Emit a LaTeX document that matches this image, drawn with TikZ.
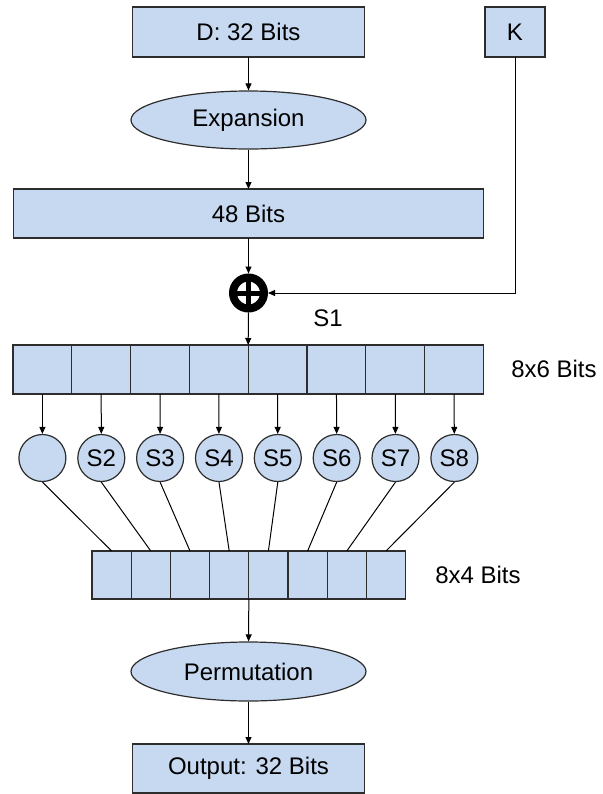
\documentclass[tikz,border=0pt]{standalone}
\usepackage{fontspec}
\setmainfont{Liberation Sans}
\usepackage{tikz}
\usetikzlibrary{shapes, arrows.meta, positioning}
\definecolor{BoxBlue}{RGB}{198, 217, 240}
\definecolor{BoxLine}{RGB}{45, 45, 45}
\tikzset{
    bitbox/.style={
        rectangle,
        draw=BoxLine,
        fill=BoxBlue,
        line width=0.6pt,
        inner sep=0pt,
        outer sep=0pt,
        align=center,
        font=\fontsize{12}{14}\selectfont
    },
    opellipse/.style={
        ellipse,
        draw=BoxLine,
        fill=BoxBlue,
        line width=0.6pt,
        inner sep=0pt,
        minimum width=117.5pt,
        minimum height=29pt,
        font=\fontsize{12}{14}\selectfont
    },
    % cells of the 8x6 and 8x4 registers
    cell/.style={
        bitbox,
        minimum width=29.4pt,
        minimum height=24.5pt
    },
    smallcell/.style={
        bitbox,
        minimum width=19.6pt,
        minimum height=24pt
    },
    sbox/.style={
        circle,
        draw=BoxLine,
        fill=BoxBlue,
        line width=0.6pt,
        inner sep=0pt,
        minimum size=23.5pt,
        font=\fontsize{12}{14}\selectfont
    },
    xorsym/.style={
        circle,
        draw=black,
        fill=white,
        line width=4pt,
        inner sep=0pt,
        minimum size=15.5pt,
        path picture={
            \draw[line width=2.5pt, black]
                (path picture bounding box.north) -- (path picture bounding box.south)
                (path picture bounding box.west) -- (path picture bounding box.east);
        }
    },
    arrow/.style={
        -{Triangle[length=3.5pt, width=3pt]},
        line width=0.5pt,
        color=black
    },
    link/.style={
        line width=0.5pt,
        color=black
    },
    bitlabel/.style={
        font=\fontsize{12}{14}\selectfont
    }
}
\begin{document}
\begin{tikzpicture}[x=0.5pt, y=-0.5pt]
    \useasboundingbox (0,0) rectangle (603,794);

    \node[bitbox, minimum width=116pt, minimum height=25pt] (din) at (248.5,32) {D: 32 Bits};
    \node[bitbox, minimum width=30pt, minimum height=25pt] (key) at (515,32) {K};
    \node[opellipse] (expansion) at (248.5,120) {Expansion};
    \node[bitbox, minimum width=235pt, minimum height=24.5pt] (bits48) at (248.5,213.5) {48 Bits};
    \node[xorsym] (xor) at (248.5,293) {};
    \node[bitlabel] (lblS1) at (328,318) {S1};

    % 8x6 register
    \node[cell] (a1) at (42.4,369.5) {};
    \node[cell, right=0pt of a1] (a2) {};
    \node[cell, right=0pt of a2] (a3) {};
    \node[cell, right=0pt of a3] (a4) {};
    \node[cell, right=0pt of a4] (a5) {};
    \node[cell, right=0pt of a5] (a6) {};
    \node[cell, right=0pt of a6] (a7) {};
    \node[cell, right=0pt of a7] (a8) {};
    \node[bitlabel] (lbl86) at (554,369) {8x6 Bits};

    % S-boxes
    \node[sbox] (s1) at (42.4,458) {};
    \node[sbox] (s2) at (101.3,458) {S2};
    \node[sbox] (s3) at (160.1,458) {S3};
    \node[sbox] (s4) at (219,458) {S4};
    \node[sbox] (s5) at (277.8,458) {S5};
    \node[sbox] (s6) at (336.7,458) {S6};
    \node[sbox] (s7) at (395.5,458) {S7};
    \node[sbox] (s8) at (454.4,458) {S8};

    % 8x4 register
    \node[smallcell] (b1) at (111.6,575) {};
    \node[smallcell, right=0pt of b1] (b2) {};
    \node[smallcell, right=0pt of b2] (b3) {};
    \node[smallcell, right=0pt of b3] (b4) {};
    \node[smallcell, right=0pt of b4] (b5) {};
    \node[smallcell, right=0pt of b5] (b6) {};
    \node[smallcell, right=0pt of b6] (b7) {};
    \node[smallcell, right=0pt of b7] (b8) {};
    \node[bitlabel] (lbl84) at (478,575) {8x4 Bits};

    \node[opellipse, minimum height=29.5pt] (perm) at (248.5,671.5) {Permutation};
    \node[bitbox, minimum width=116pt, minimum height=24.5pt] (dout) at (248.5,768.5) {Output: 32 Bits};

    \draw[arrow] (din) -- (expansion);
    \draw[arrow] (expansion) -- (bits48);
    \draw[arrow] (bits48) -- (xor);
    \draw[arrow] (key) |- (xor);
    \draw[arrow] (xor) -- (a4.north east);

    \draw[arrow] (a1) -- (s1);
    \draw[arrow] (a2) -- (s2);
    \draw[arrow] (a3) -- (s3);
    \draw[arrow] (a4) -- (s4);
    \draw[arrow] (a5) -- (s5);
    \draw[arrow] (a6) -- (s6);
    \draw[arrow] (a7) -- (s7);
    \draw[arrow] (a8) -- (s8);

    \draw[link] (s1.south) -- (b1.north);
    \draw[link] (s2.south) -- (b2.north);
    \draw[link] (s3.south) -- (b3.north);
    \draw[link] (s4.south) -- (b4.north);
    \draw[link] (s5.south) -- (b5.north);
    \draw[link] (s6.south) -- (b6.north);
    \draw[link] (s7.south) -- (b7.north);
    \draw[link] (s8.south) -- (b8.north);

    \draw[arrow] (b4.south east) -- (perm);
    \draw[arrow] (perm) -- (dout);
\end{tikzpicture}
\end{document}
